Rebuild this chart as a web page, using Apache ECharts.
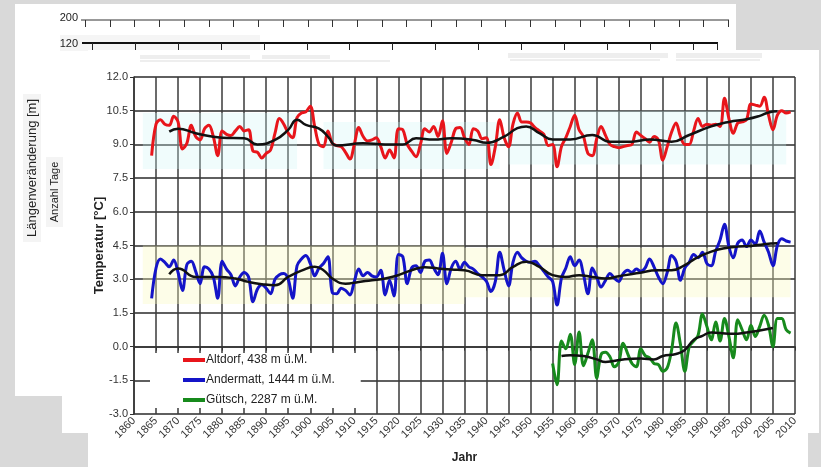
<!DOCTYPE html>
<html>
<head>
<meta charset="utf-8">
<script src="https://cdn.jsdelivr.net/npm/echarts@6/dist/echarts.min.js"></script>
<style>
html, body { margin: 0; padding: 0; background: #d9d9d9; }
#chart { width: 821px; height: 467px; }
</style>
</head>
<body>
<div id="chart"></div>
<script>
// Annual mean temperatures [°C]
const altdorfFirstYear = 1864;
const altdorf = [
  8.5, 9.9, 10.1, 9.9, 9.85, 10.25, 10.0, 8.8, 9.05, 9.85,
  9.35, 9.2, 9.7, 9.85, 9.35, 8.5, 9.6, 9.45, 9.4, 9.6,
  9.8, 9.6, 9.65, 8.7, 8.65, 8.4, 8.6, 8.75, 9.5, 10.15,
  9.9, 9.5, 9.3, 10.2, 10.4, 10.45, 10.7, 9.8, 9.0, 8.9,
  9.6, 9.05, 8.95, 8.9, 8.65, 8.35, 9.0, 9.75, 9.35, 9.15,
  9.2, 9.3, 8.9, 8.4, 8.75, 8.4, 9.7, 9.65, 9.0, 8.7,
  8.45, 9.0, 9.7, 9.55, 9.8, 9.35, 10.05, 8.6, 9.1, 9.7,
  9.75, 9.3, 9.0, 9.7, 9.6, 9.25, 9.3, 8.1, 8.9, 10.1,
  9.3, 8.9, 9.9, 10.4, 10.0, 10.0, 9.95, 9.75, 9.6, 9.45,
  8.95, 9.0, 8.0, 8.9, 9.3, 9.8, 10.3, 9.65, 9.35, 8.6,
  8.5, 9.25, 9.8, 9.4, 9.0, 8.9, 8.85, 8.9, 8.95, 9.0,
  9.55, 9.4, 9.25, 9.1, 9.35, 9.2, 8.3, 8.9, 9.55, 9.95,
  9.35, 9.0, 9.0, 9.6, 10.15, 9.8, 9.9, 9.85, 9.9, 9.8,
  11.05, 10.15, 9.5, 9.95, 10.0, 10.1, 10.8, 10.75, 10.7, 11.1,
  10.3, 9.65, 10.3, 10.5, 10.4, 10.45
];

const andermattFirstYear = 1864;
const andermatt = [
  2.15, 3.5, 3.9, 3.75, 3.55, 3.85, 3.3, 2.5, 3.65, 3.8,
  3.35, 2.8, 3.55, 3.45, 3.1, 2.15, 3.8, 3.45, 3.2, 2.7,
  3.1, 3.3, 3.1, 2.0, 2.55, 2.75, 2.6, 2.35, 3.0, 3.2,
  3.25, 3.0, 2.15, 3.6, 3.9, 4.05, 3.7, 3.15, 3.5, 3.7,
  4.0, 2.4, 2.35, 2.6, 2.5, 2.3, 2.9, 3.45, 3.15, 3.3,
  3.15, 3.1, 3.4, 2.3, 2.95, 2.25, 4.1, 4.0, 2.8, 3.5,
  3.6, 3.3, 3.8, 3.85, 3.5, 3.2, 4.15, 2.8, 3.5, 3.8,
  3.45, 3.75, 3.55, 3.45, 3.25, 3.1, 2.9, 2.45, 2.9, 4.2,
  3.4, 2.7, 3.75, 4.2, 3.95, 3.8, 3.75, 3.8, 3.6, 3.35,
  3.1, 2.9, 1.85, 3.05, 3.5, 4.0, 3.6, 3.85, 3.2, 2.35,
  3.5, 3.1, 2.65, 2.95, 3.25, 3.05, 2.9, 3.25, 3.4, 3.3,
  3.45, 3.35, 3.5, 3.9, 3.55, 3.1, 2.8, 3.3, 4.05, 3.8,
  2.95, 3.5, 3.75, 4.1, 3.95, 4.2, 3.7, 3.6, 4.25, 4.75,
  5.45, 4.45, 3.95, 4.6, 4.75, 4.45, 4.75, 4.55, 5.15, 4.65,
  4.2, 3.6, 4.5, 4.8, 4.7, 4.65
];

const guetschFirstYear = 1955;
const guetsch = [
  -0.75, -1.7, 0.25, -0.1, 0.55, -0.8, 0.65, -0.85, -0.3, 0.3,
  -1.4, -0.35, -0.25, -0.45, -0.9, -0.7, 0.15, -0.3, -0.75, -0.9,
  -0.1, -0.4, -0.5, -0.75, -0.8, -1.1, -0.95, -0.15, 1.05, 0.1,
  -1.1, 0.0, 0.25, 0.5, 1.45, 0.9, 0.3, 1.1, 0.25, 1.25,
  0.45, -0.5, 1.2, 0.75, 0.3, 0.95, 0.45, 0.9, 1.4, 0.95,
  0.0, 1.25, 1.25, 0.75, 0.6
];

// Smoothed curves (black), sampled at the listed years
const altdorfTrendYears = [1868, 1870, 1874, 1880, 1885, 1888, 1892, 1895, 1897, 1899, 1902, 1904, 1906, 1912, 1917, 1921, 1924, 1928, 1932, 1937, 1940, 1944, 1947, 1949, 1952, 1955, 1959, 1964, 1968, 1973, 1977, 1982, 1986, 1991, 1995, 1999, 2002, 2004, 2006];
const altdorfTrend = [9.57, 9.7, 9.5, 9.3, 9.27, 9.0, 9.2, 9.65, 10.1, 9.87, 9.7, 9.35, 8.95, 9.05, 9.0, 9.0, 9.27, 9.22, 9.27, 9.2, 9.07, 9.35, 9.72, 9.8, 9.5, 9.22, 9.22, 9.42, 9.12, 9.12, 9.22, 9.12, 9.42, 9.8, 10.0, 10.12, 10.27, 10.42, 10.47];

const andermattTrendYears = [1868, 1870, 1874, 1879, 1883, 1886, 1889, 1892, 1895, 1898, 1901, 1903, 1905, 1908, 1911, 1914, 1917, 1920, 1923, 1926, 1929, 1932, 1935, 1939, 1943, 1946, 1949, 1952, 1955, 1958, 1961, 1964, 1967, 1970, 1974, 1979, 1982, 1985, 1988, 1991, 1994, 1997, 2000, 2003, 2006];
const andermattTrend = [3.22, 3.48, 3.1, 3.1, 3.03, 2.88, 2.78, 2.73, 3.1, 3.38, 3.55, 3.4, 3.03, 2.8, 2.88, 2.95, 3.03, 3.18, 3.4, 3.53, 3.48, 3.43, 3.4, 3.18, 3.18, 3.55, 3.78, 3.55, 3.18, 3.1, 3.18, 3.1, 3.03, 3.13, 3.26, 3.4, 3.4, 3.63, 3.98, 4.23, 4.38, 4.45, 4.48, 4.56, 4.6];

const guetschTrendYears = [1957, 1959, 1962, 1965, 1967, 1971, 1975, 1978, 1980, 1983, 1985, 1987, 1989, 1991, 1993, 1996, 1999, 2002, 2005];
const guetschTrend = [-0.42, -0.38, -0.42, -0.57, -0.68, -0.57, -0.53, -0.57, -0.42, -0.33, -0.15, 0.3, 0.48, 0.63, 0.6, 0.57, 0.63, 0.72, 0.83];

const stationNames = ['Altdorf, 438 m ü.M.', 'Andermatt, 1444 m ü.M.', 'Gütsch, 2287 m ü.M.'];
const stationColors = ['#e8151b', '#1414c8', '#178a1c'];

const yearRange = [1860, 2010];
const tempRange = [-3, 12];

function annual(values, firstYear) {
  return values.map((v, i) => [firstYear + i, v]);
}
function paired(years, values) {
  return years.map((y, i) => [y, values[i]]);
}

// Paper sheets and strips of the pages lying underneath
const sheets = [];
sheets.push({ type: 'rect', shape: { x: 15, y: 4, width: 721, height: 392 }, style: { fill: '#ffffff' } });
sheets.push({ type: 'rect', shape: { x: 62, y: 33, width: 674, height: 400 }, style: { fill: '#ffffff' } });
sheets.push({ type: 'rect', shape: { x: 60, y: 35, width: 200, height: 16 }, style: { fill: '#f5f5f5' } });
// upper strip "200"
sheets.push({ type: 'text', x: 78, y: 18, style: { text: '200', fill: '#222', font: '11px "Liberation Sans"', textAlign: 'right', textVerticalAlign: 'middle' } });
sheets.push({ type: 'line', shape: { x1: 81, y1: 20, x2: 729, y2: 20 }, style: { stroke: '#333', lineWidth: 1 } });
for (let k = 0; k <= 26; k++) {
  const tx = Math.round(85 + k * 24.73) + 0.5;
  sheets.push({ type: 'line', shape: { x1: tx, y1: 20, x2: tx, y2: 27 }, style: { stroke: '#333', lineWidth: 1 } });
}
// upper strip "120"
sheets.push({ type: 'text', x: 78, y: 44, style: { text: '120', fill: '#222', font: '11px "Liberation Sans"', textAlign: 'right', textVerticalAlign: 'middle' } });
sheets.push({ type: 'line', shape: { x1: 82, y1: 43, x2: 718, y2: 43 }, style: { stroke: '#111', lineWidth: 2 } });
for (let k = 0; k <= 14; k++) {
  const tx = Math.round(92 + k * 42.9) + 0.5;
  sheets.push({ type: 'line', shape: { x1: tx, y1: 43, x2: tx, y2: 51 }, style: { stroke: '#222', lineWidth: 1 } });
}
sheets.push({ type: 'line', shape: { x1: 717.5, y1: 43, x2: 717.5, y2: 51 }, style: { stroke: '#222', lineWidth: 1 } });
// main sheet
sheets.push({ type: 'rect', shape: { x: 88, y: 50, width: 731, height: 383 }, style: { fill: '#ffffff' } });
sheets.push({ type: 'rect', shape: { x: 88, y: 433, width: 720, height: 34 }, style: { fill: '#ffffff' } });
// faint print lines at the top of the main sheet
[[140, 55, 110, 4], [262, 55, 68, 4], [140, 60, 250, 2], [508, 53, 160, 5], [676, 53, 86, 5], [510, 59, 150, 2], [676, 59, 84, 2]].forEach(r => {
  sheets.push({ type: 'rect', shape: { x: r[0], y: r[1], width: r[2], height: r[3] }, style: { fill: '#eeeeee' } });
});
// axis titles of the sheets underneath
sheets.push({ type: 'rect', shape: { x: 23, y: 94, width: 18, height: 148 }, style: { fill: '#f4f4f4' } });
sheets.push({ type: 'text', x: 32, y: 168, rotation: Math.PI / 2, style: { text: 'Längenveränderung [m]', fill: '#222', font: '13px "Liberation Sans"', textAlign: 'center', textVerticalAlign: 'middle' } });
sheets.push({ type: 'rect', shape: { x: 46, y: 157, width: 17, height: 70 }, style: { fill: '#f4f4f4' } });
sheets.push({ type: 'text', x: 55, y: 192, rotation: Math.PI / 2, style: { text: 'Anzahl Tage', fill: '#222', font: '11px "Liberation Sans"', textAlign: 'center', textVerticalAlign: 'middle' } });
sheets.forEach(el => { el.z = -10; el.silent = true; });

const lineCommon = { type: 'line', smooth: 0.35, showSymbol: false, symbol: 'none' };

const chart = echarts.init(document.getElementById('chart'), null, { renderer: 'canvas' });
chart.setOption({
  backgroundColor: '#d9d9d9',
  animation: false,
  graphic: sheets,
  grid: { left: 134, right: 26, top: 77, bottom: 53, containLabel: false, outerBoundsMode: 'none' },
  legend: {
    data: stationNames,
    orient: 'vertical',
    left: 150,
    top: 353,
    backgroundColor: '#ffffff',
    padding: [1, 26, 2, 33],
    itemGap: 8,
    itemWidth: 22,
    itemHeight: 4,
    icon: 'rect',
    textStyle: { fontFamily: 'Liberation Sans', fontSize: 12, color: '#222', padding: [0, 0, 0, -4] }
  },
  xAxis: {
    type: 'value',
    min: yearRange[0],
    max: yearRange[1],
    interval: 5,
    name: 'Jahr',
    nameLocation: 'middle',
    nameGap: 38,
    nameMoveOverlap: false,
    nameTextStyle: { fontFamily: 'Liberation Sans', fontWeight: 'bold', fontSize: 12, color: '#222' },
    axisLine: { lineStyle: { color: '#333', width: 1.5 } },
    axisTick: { show: true, length: 4, lineStyle: { color: '#333' } },
    axisLabel: { rotate: 45, fontFamily: 'Liberation Sans', fontSize: 11, color: '#333', margin: 5, formatter: v => String(v) },
    splitLine: { show: true, lineStyle: { color: '#3a3a3a', width: 1.5 } }
  },
  yAxis: {
    type: 'value',
    min: tempRange[0],
    max: tempRange[1],
    interval: 1.5,
    name: 'Temperatur [°C]',
    nameLocation: 'middle',
    nameGap: 28,
    nameMoveOverlap: false,
    nameTextStyle: { fontFamily: 'Liberation Sans', fontWeight: 'bold', fontSize: 13, color: '#222' },
    axisLine: { show: true, lineStyle: { color: '#333', width: 1.5 } },
    axisTick: { show: true, length: 4, lineStyle: { color: '#333' } },
    axisLabel: { fontFamily: 'Liberation Sans', fontSize: 11, color: '#333', margin: 6, formatter: v => v.toFixed(1) },
    splitLine: { show: true, lineStyle: { color: '#2a2a2a', width: 1.5 } }
  },
  series: [
    Object.assign({}, lineCommon, {
      name: stationNames[0], data: annual(altdorf, altdorfFirstYear),
      itemStyle: { color: stationColors[0] }, lineStyle: { color: stationColors[0], width: 3 }, z: 3,
      // light tint behind the Altdorf curve
      markArea: { silent: true, itemStyle: { color: 'rgba(205, 245, 245, 0.3)' }, data: [[{ coord: [1862, 10.4] }, { coord: [1897, 7.9] }], [{ coord: [1903, 10.0] }, { coord: [1943, 7.9] }], [{ coord: [1945, 10.5] }, { coord: [2008, 8.1] }]] }
    }),
    Object.assign({}, lineCommon, {
      name: stationNames[1], data: annual(andermatt, andermattFirstYear),
      itemStyle: { color: stationColors[1] }, lineStyle: { color: stationColors[1], width: 3 }, z: 3,
      // light tint behind the Andermatt curve
      markArea: { silent: true, itemStyle: { color: 'rgba(250, 250, 190, 0.35)' }, data: [[{ coord: [1862, 4.5] }, { coord: [1935, 1.9] }], [{ coord: [1935, 4.4] }, { coord: [2009, 2.2] }]] }
    }),
    Object.assign({}, lineCommon, { name: stationNames[2], data: annual(guetsch, guetschFirstYear), itemStyle: { color: stationColors[2] }, lineStyle: { color: stationColors[2], width: 3 }, z: 3 }),
    Object.assign({}, lineCommon, { name: 'Altdorf Trend', data: paired(altdorfTrendYears, altdorfTrend), smooth: 0.5, lineStyle: { color: '#111', width: 2.5 }, itemStyle: { color: '#111' }, z: 4 }),
    Object.assign({}, lineCommon, { name: 'Andermatt Trend', data: paired(andermattTrendYears, andermattTrend), smooth: 0.5, lineStyle: { color: '#111', width: 2.5 }, itemStyle: { color: '#111' }, z: 4 }),
    Object.assign({}, lineCommon, { name: 'Gütsch Trend', data: paired(guetschTrendYears, guetschTrend), smooth: 0.5, lineStyle: { color: '#111', width: 2.5 }, itemStyle: { color: '#111' }, z: 4 })
  ]
});
</script>
</body>
</html>
